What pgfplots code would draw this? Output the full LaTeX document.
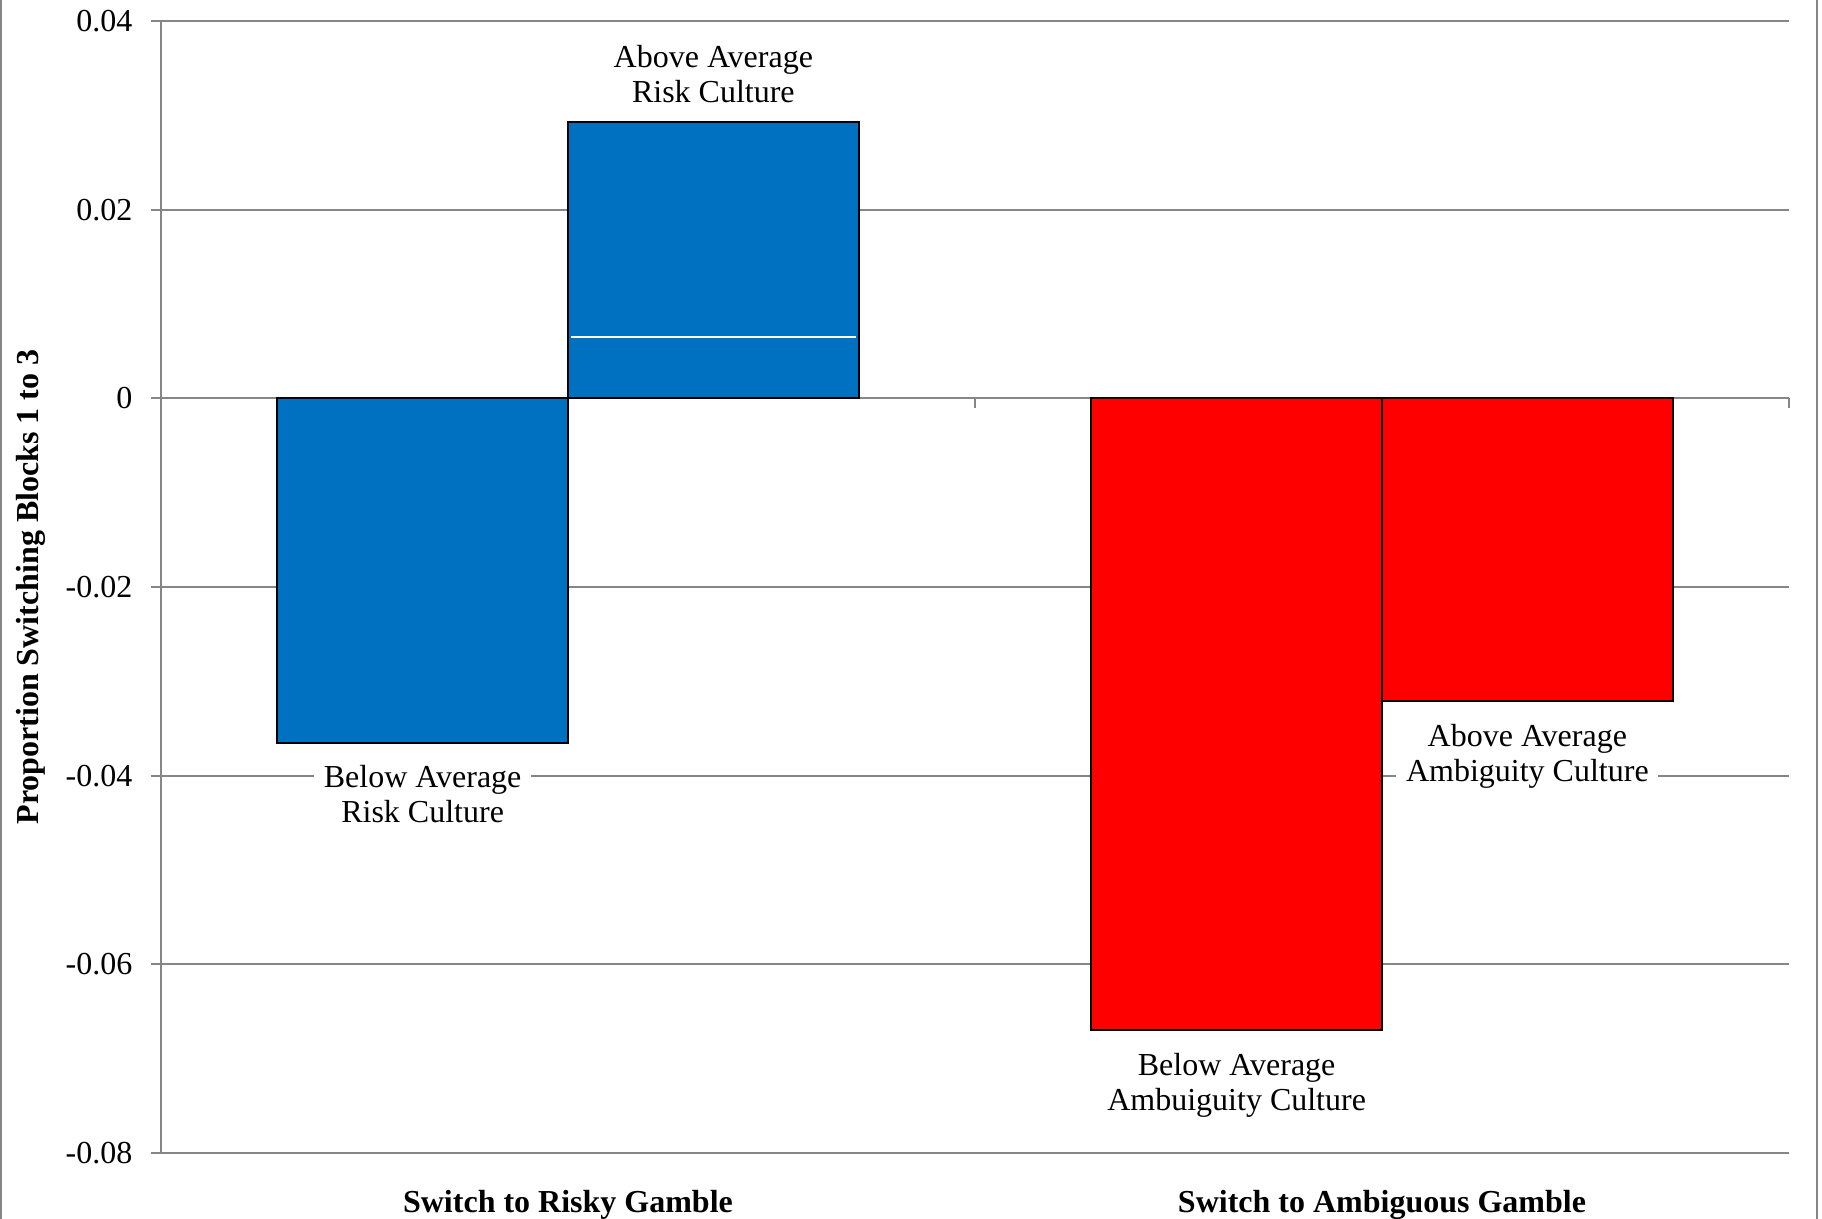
\documentclass[border=0pt]{standalone}
\usepackage{fontspec}
\setmainfont{Liberation Serif}
\usepackage{pgfplots}
\pgfplotsset{compat=1.18}
\definecolor{barblue}{RGB}{0,112,192}
\definecolor{gridgray}{RGB}{134,134,134}
\begin{document}
\fontsize{10}{11}\selectfont
\begin{tikzpicture}
\useasboundingbox (-50.3125pt,-20.625pt) rectangle (519.0625pt,360.3125pt);
\draw[gridgray, line width=0.6pt] (-50.0pt,-20.625pt) -- (-50.0pt,360.3125pt);
\draw[gridgray, line width=0.6pt] (517.5pt,-20.625pt) -- (517.5pt,360.3125pt);
\begin{axis}[
  at={(0,0)}, anchor=south west,
  scale only axis,
  width=508.75pt, height=353.75pt,
  xmin=0, xmax=5.6,
  ymin=-0.08, ymax=0.04,
  clip=false,
  axis y line*=left,
  axis x line*=bottom,
  axis line style={draw=gridgray, line width=0.6pt},
  ymajorgrids,
  grid style={draw=gridgray, line width=0.6pt},
  ytick={-0.08,-0.06,-0.04,-0.02,0,0.02,0.04},
  yticklabels={{-0.08},{-0.06},{-0.04},{-0.02},{0},{0.02},{0.04}},
  tick align=outside,
  major tick length=3.125pt,
  ytick style={draw=gridgray, line width=0.6pt},
  yticklabel style={font=\fontsize{10}{11}\selectfont, xshift=-2.3pt},
  xtick={1.4,4.2},
  xticklabels={Switch to Risky Gamble, Switch to Ambiguous Gamble},
  xtick style={draw=none},
  xticklabel style={font=\fontsize{10}{11}\selectfont\bfseries, yshift=-5.0pt},
  ylabel={Proportion Switching Blocks 1 to 3},
  ylabel style={font=\fontsize{10}{11}\selectfont\bfseries, at={(axis description cs:-0.0799,0.5)}, anchor=center},
]
\addplot[ybar, bar width=1, fill=barblue, draw=black, line width=0.6pt] coordinates {(0.9,-0.0365) (1.9,0.0293)};
\addplot[ybar, bar width=1, fill=red, draw=black, line width=0.6pt] coordinates {(3.7,-0.0670) (4.7,-0.0321)};
\addplot[white, line width=0.4pt] coordinates {(1.41,0.0065) (2.39,0.0065)};
\addplot[gridgray, line width=0.6pt] coordinates {(2.8,0) (2.8,-0.00106)};
\addplot[gridgray, line width=0.6pt] coordinates {(5.6,0) (5.6,-0.00106)};
\node[anchor=south, align=center, inner sep=2pt, yshift=3.8pt] at (axis cs:1.9,0.0293) {Above Average\\Risk Culture};
\node[anchor=north, align=center, fill=white, inner xsep=3pt, inner ysep=2pt, yshift=-4.9pt] at (axis cs:0.9,-0.0365) {Below Average\\Risk Culture};
\node[anchor=north, align=center, fill=white, inner xsep=3pt, inner ysep=2pt, yshift=-4.9pt] at (axis cs:3.7,-0.0670) {Below Average\\Ambuiguity Culture};
\node[anchor=north, align=center, fill=white, inner xsep=3pt, inner ysep=2pt, yshift=-4.9pt] at (axis cs:4.7,-0.0321) {Above Average\\Ambiguity Culture};
\end{axis}
\end{tikzpicture}
\end{document}
